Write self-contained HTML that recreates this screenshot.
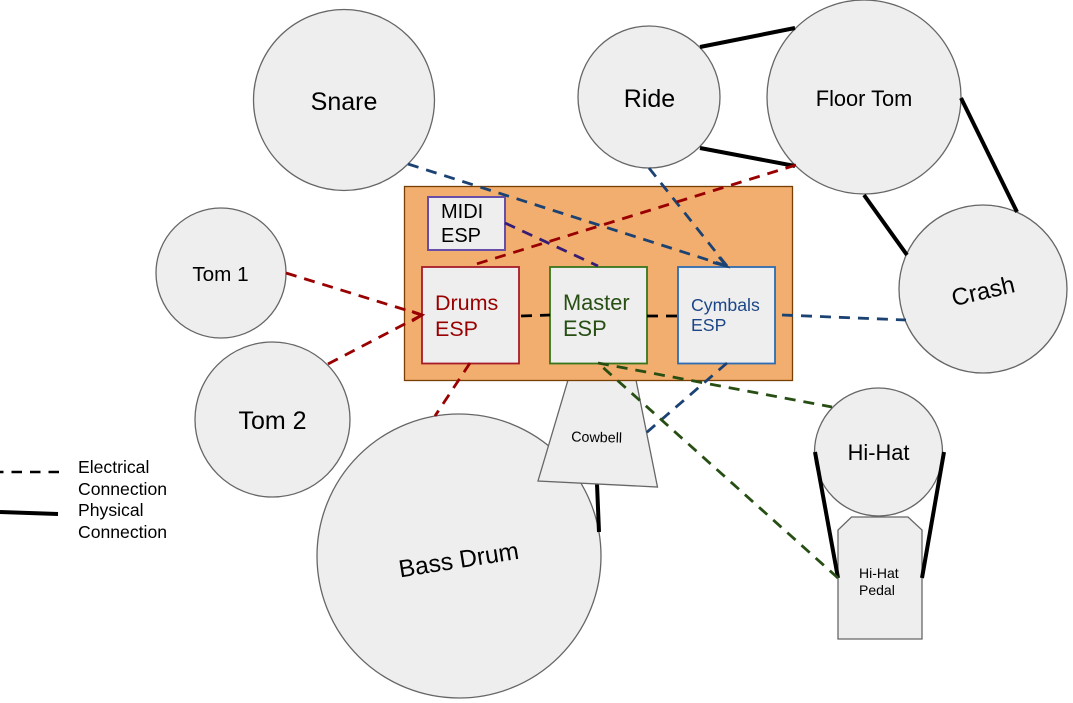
<!DOCTYPE html>
<html>
<head>
<meta charset="utf-8">
<style>
html,body{margin:0;padding:0;background:#fff}
svg{display:block}
text{font-family:"Liberation Sans",sans-serif}
.n{fill:#eeeeee;stroke:#666;stroke-width:1.3}
.d{fill:none;stroke-width:2.8;stroke-dasharray:11 8}
.t{stroke:#000;stroke-width:4;fill:none}
</style>
</head>
<body>
<svg width="1073" height="703" viewBox="0 0 1073 703" xmlns="http://www.w3.org/2000/svg">
<circle class="n" cx="459" cy="556" r="142"/>
<line class="t" x1="597" y1="484" x2="599" y2="532"/>
<circle class="n" cx="344" cy="100" r="90.5"/>
<circle class="n" cx="649" cy="97" r="71"/>
<circle class="n" cx="864" cy="97" r="97"/>
<circle class="n" cx="983" cy="289" r="84"/>
<circle class="n" cx="221" cy="273" r="65"/>
<circle class="n" cx="272.500" cy="419.500" r="77.500"/>
<circle class="n" cx="878.500" cy="452" r="64"/>
<polygon class="n" points="568,380 636,380 657.500,487 538,481"/>
<polygon class="n" points="851.500,517 908,517 922,530 922,639 838,639 838,530"/>
<line class="t" x1="700" y1="47" x2="795" y2="28"/>
<line class="t" x1="700" y1="148" x2="795" y2="166"/>
<line class="t" x1="961" y1="98" x2="1017" y2="212"/>
<line class="t" x1="864" y1="195" x2="907" y2="255"/>
<line class="t" x1="815" y1="452" x2="838" y2="578"/>
<line class="t" x1="944" y1="452" x2="922" y2="578"/>
<rect x="404.500" y="186.500" width="388" height="194" fill="#f2ae6e" stroke="#783f04" stroke-width="1.300"/>
<rect x="428" y="197" width="77" height="53" fill="#eeeeee" stroke="#674ea7" stroke-width="2"/>
<rect x="422" y="267" width="97" height="96.500" fill="#eeeeee" stroke="#a61c2a" stroke-width="1.800"/>
<rect x="550" y="267" width="97" height="96.500" fill="#eeeeee" stroke="#38761d" stroke-width="1.800"/>
<rect x="678" y="267" width="97" height="96.500" fill="#eeeeee" stroke="#2e6bb0" stroke-width="1.800"/>
<g stroke="#1b4272">
<path class="d" d="M408 164L727 266"/>
<path class="d" d="M649 168L727 266"/>
<path class="d" d="M782 315L906 320"/>
<path class="d" d="M727 363L646 433"/>
</g>
<path d="M713 262.500L726.500 266L719 257" fill="none" stroke="#1b4272" stroke-width="2.800"/>
<g stroke="#990000">
<path class="d" d="M286 273L422 315"/>
<path class="d" d="M328 364L422 315"/>
<path class="d" d="M796 165L470 266"/>
<path class="d" d="M470 363L435 416"/>
</g>
<path d="M412 311.500L422 315L412 321" fill="none" stroke="#990000" stroke-width="2.800"/>
<path class="d" stroke="#351c75" d="M505 223L598 266"/>
<g stroke="#274e13">
<path class="d" d="M838 578L598 363"/>
<path class="d" d="M598 363L832 407"/>
</g>
<path class="d" stroke="#000" d="M521 316L550 315"/>
<path class="d" stroke="#000" d="M647 316L678 316"/>
<path d="M59 472L0 472" fill="none" stroke="#000" stroke-width="2.500" stroke-dasharray="10.500 8"/>
<path d="M0 512L58 514" fill="none" stroke="#000" stroke-width="4"/>
<text x="344" y="110" font-size="25" text-anchor="middle">Snare</text>
<text x="649.500" y="107" font-size="25" text-anchor="middle">Ride</text>
<text x="864" y="106" font-size="21.800" text-anchor="middle">Floor Tom</text>
<text x="220.500" y="281" font-size="20.700" text-anchor="middle">Tom 1</text>
<text x="272.500" y="429" font-size="25" text-anchor="middle">Tom 2</text>
<text x="878.500" y="460" font-size="21.800" text-anchor="middle">Hi-Hat</text>
<text transform="translate(985 299) rotate(-13)" font-size="24" text-anchor="middle">Crash</text>
<text transform="translate(460 568) rotate(-9)" font-size="24.500" text-anchor="middle">Bass Drum</text>
<text transform="translate(596.500 442) rotate(1.500)" font-size="14.300" text-anchor="middle">Cowbell</text>
<text x="859" y="578" font-size="14">Hi-Hat</text>
<text x="859" y="595" font-size="14">Pedal</text>
<text x="441" y="218" font-size="20">MIDI</text>
<text x="441" y="242" font-size="20">ESP</text>
<g fill="#990000" font-size="21.500"><text x="435" y="310">Drums</text><text x="435" y="336">ESP</text></g>
<g fill="#274e13" font-size="21.800"><text x="563" y="310">Master</text><text x="563" y="336">ESP</text></g>
<g fill="#1c4587" font-size="17.700"><text x="691" y="311">Cymbals</text><text x="691" y="331">ESP</text></g>
<g font-size="17.600" fill="#000"><text x="78" y="473">Electrical</text><text x="78" y="495">Connection</text><text x="78" y="516">Physical</text><text x="78" y="538">Connection</text></g>
</svg>
</body>
</html>
